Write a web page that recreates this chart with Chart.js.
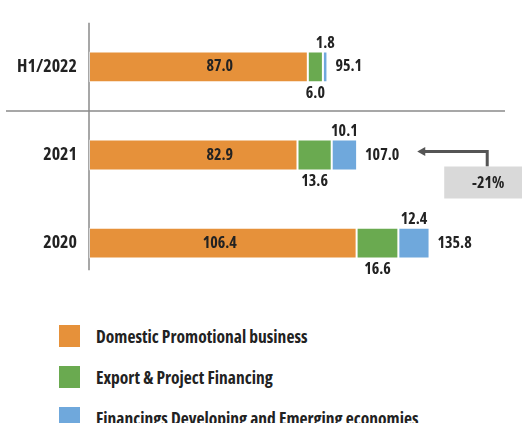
<!DOCTYPE html>
<html>
<head>
<meta charset="utf-8">
<script src="https://cdn.jsdelivr.net/npm/chart.js@4.4.0/dist/chart.umd.min.js"></script>
<style>
  html, body { margin: 0; padding: 0; background: #fff; width: 522px; height: 423px; overflow: hidden; }
  #wrap { position: relative; width: 522px; height: 310px; }
  #legend { position: absolute; left: 59px; top: 325px; margin: 0; padding: 0; list-style: none;
            font-family: 'Open Sans', sans-serif; font-weight: bold; font-stretch: 75%; font-size: 17.5px; color: #222; }
  #legend li { display: flex; align-items: center; height: 22px; margin-bottom: 19px; white-space: nowrap; }
  #legend .sw { width: 21px; height: 22px; margin-right: 16px; flex: none; }
</style>
</head>
<body>
<div id="wrap"><canvas id="c"></canvas></div>
<ul id="legend"></ul>
<script>
// ---- data ----
const categories = ['H1/2022', '2021', '2020'];
const domestic   = [87.0, 82.9, 106.4];
const exportProj = [6.0, 13.6, 16.6];
const developing = [1.8, 10.1, 12.4];
const totals     = [95.1, 107.0, 135.8];
const seriesNames = ['Domestic Promotional business', 'Export & Project Financing', 'Financings Developing and Emerging economies'];
const changeLabel = '-21%';

const FAMILY = "'Open Sans', sans-serif";
const LABEL_FONT = "bold condensed 16px " + FAMILY;
const COLORS = ['#E6913A', '#6AAA50', '#6FA8DC'];
const TEXT = '#222';

const fmt = v => v.toFixed(1);

const labelPlugin = {
  id: 'labels',
  beforeDatasetsDraw(chart) {
    const ctx = chart.ctx, ca = chart.chartArea, ys = chart.scales.y;
    ctx.save();
    const ySep = (ys.getPixelForValue(0) + ys.getPixelForValue(1)) / 2;
    ctx.strokeStyle = '#8a8a8a';
    ctx.lineWidth = 1.5;
    ctx.beginPath(); ctx.moveTo(6, ySep); ctx.lineTo(505, ySep); ctx.stroke();
    ctx.beginPath(); ctx.moveTo(ca.left, ca.top); ctx.lineTo(ca.left, ca.bottom - 17); ctx.stroke();
    ctx.restore();
  },
  afterDatasetsDraw(chart) {
    const ctx = chart.ctx, xs = chart.scales.x;
    const m0 = chart.getDatasetMeta(0), m1 = chart.getDatasetMeta(1), m2 = chart.getDatasetMeta(2);
    ctx.save();
    ctx.fillStyle = TEXT;
    ctx.font = LABEL_FONT;
    ctx.textBaseline = 'middle';
    for (let i = 0; i < categories.length; i++) {
      const b0 = m0.data[i], b1 = m1.data[i], b2 = m2.data[i];
      const top = b0.y - b0.height / 2, bot = b0.y + b0.height / 2;
      ctx.textAlign = 'center';
      ctx.fillText(fmt(domestic[i]), xs.getPixelForValue(52), b0.y);
      ctx.fillText(fmt(exportProj[i]), (b1.base + b1.x) / 2, bot + 11);
      ctx.fillText(fmt(developing[i]), (b2.base + b2.x) / 2, top - 8);
      ctx.textAlign = 'left';
      ctx.fillText(fmt(totals[i]), b2.x + 8, b0.y);
    }
    // change annotation next to 2021
    const b = m2.data[1];
    const tw = ctx.measureText(fmt(totals[1])).width;
    const tipX = b.x + 8 + tw + 18;
    const ay = b.y - 3.5;
    const cornerX = tipX + 70;
    ctx.strokeStyle = '#555';
    ctx.fillStyle = '#555';
    ctx.lineWidth = 3;
    ctx.beginPath();
    ctx.moveTo(tipX + 6, ay);
    ctx.lineTo(cornerX, ay);
    ctx.lineTo(cornerX, ay + 15);
    ctx.stroke();
    ctx.beginPath();
    ctx.moveTo(tipX, ay);
    ctx.lineTo(tipX + 8, ay - 4.5);
    ctx.lineTo(tipX + 8, ay + 4.5);
    ctx.closePath();
    ctx.fill();
    const boxL = cornerX - 43, boxT = ay + 15;
    ctx.fillStyle = '#d9d9d9';
    ctx.fillRect(boxL, boxT, chart.width - boxL, 32);
    ctx.fillStyle = TEXT;
    ctx.textAlign = 'center';
    ctx.fillText(changeLabel, cornerX + 1, boxT + 17);
    ctx.restore();
  }
};

const chart = new Chart(document.getElementById('c'), {
  type: 'bar',
  data: {
    labels: categories,
    datasets: [
      { label: seriesNames[0], data: domestic,   backgroundColor: COLORS[0] },
      { label: seriesNames[1], data: exportProj, backgroundColor: COLORS[1] },
      { label: seriesNames[2], data: developing, backgroundColor: COLORS[2] }
    ].map(d => Object.assign(d, { borderColor: 'rgba(255,255,255,0.55)', borderWidth: 1, borderSkipped: false }))
  },
  options: {
    indexAxis: 'y',
    responsive: true,
    maintainAspectRatio: false,
    animation: false,
    layout: { padding: { left: 0, right: 18, top: 13.8, bottom: 5.2 } },
    datasets: { bar: { categoryPercentage: 1, barPercentage: 0.35 } },
    scales: {
      x: { stacked: true, display: false, min: 0, max: 165 },
      y: {
        stacked: true,
        grid: { display: false, drawTicks: false },
        border: { display: false },
        ticks: { color: TEXT, padding: 12, font: { family: FAMILY, weight: 'bold condensed', size: 18 } },
        afterFit: s => { s.width = 89; }
      }
    },
    plugins: { legend: { display: false }, tooltip: { enabled: false } }
  },
  plugins: [labelPlugin]
});

// HTML legend from chart datasets
const ul = document.getElementById('legend');
chart.data.datasets.forEach(ds => {
  const li = document.createElement('li');
  const sw = document.createElement('span');
  sw.className = 'sw';
  sw.style.background = ds.backgroundColor;
  const tx = document.createElement('span');
  tx.textContent = ds.label;
  li.appendChild(sw); li.appendChild(tx);
  ul.appendChild(li);
});
</script>
</body>
</html>
